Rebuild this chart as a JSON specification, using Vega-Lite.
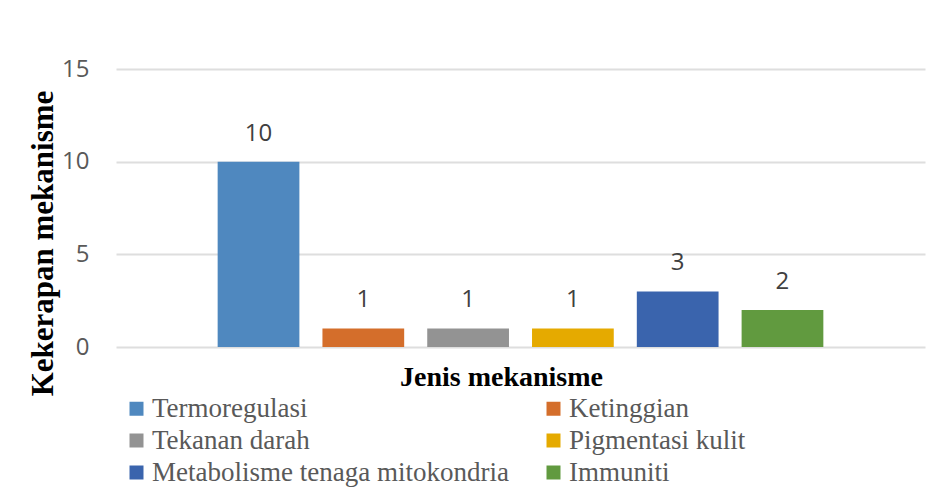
{
  "$schema": "https://vega.github.io/schema/vega-lite/v6.json",
  "autosize": "none",
  "width": 809,
  "height": 278,
  "padding": {"left": 116, "top": 69, "right": 5, "bottom": 148},
  "background": "white",
  "config": {"view": {"stroke": null}},
  "data": {
    "values": [
      {"mekanisme": "Termoregulasi", "kekerapan": 10},
      {"mekanisme": "Ketinggian", "kekerapan": 1},
      {"mekanisme": "Tekanan darah", "kekerapan": 1},
      {"mekanisme": "Pigmentasi kulit", "kekerapan": 1},
      {"mekanisme": "Metabolisme tenaga mitokondria", "kekerapan": 3},
      {"mekanisme": "Immuniti", "kekerapan": 2}
    ]
  },
  "encoding": {
    "x": {
      "field": "mekanisme",
      "type": "nominal",
      "sort": null,
      "scale": {"paddingInner": 0.22, "paddingOuter": 0.97},
      "axis": {
        "title": "Jenis mekanisme",
        "labels": false,
        "ticks": false,
        "domain": false,
        "titleFont": "Liberation Serif",
        "titleFontWeight": "bold",
        "titleFontSize": 28,
        "titleColor": "#000000",
        "titleX": 385,
        "titleY": 38,
        "titleAlign": "center",
        "titleBaseline": "alphabetic"
      }
    },
    "y": {
      "field": "kekerapan",
      "type": "quantitative",
      "scale": {"domain": [0, 15], "nice": false},
      "axis": {
        "title": "Kekerapan mekanisme",
        "values": [0, 5, 10, 15],
        "domain": false,
        "ticks": false,
        "grid": true,
        "gridColor": "#dedede",
        "gridWidth": 2,
        "labelFont": "Open Sans",
        "labelFontSize": 24,
        "labelColor": "#595959",
        "labelPadding": 27,
        "titleFont": "Liberation Serif",
        "titleFontWeight": "bold",
        "titleFontSize": 31,
        "titleColor": "#000000",
        "titleAngle": -90,
        "titleX": -64,
        "titleY": 174,
        "titleAlign": "center",
        "titleBaseline": "alphabetic"
      }
    }
  },
  "layer": [
    {
      "mark": {"type": "bar"},
      "encoding": {
        "color": {
          "field": "mekanisme",
          "type": "nominal",
          "sort": null,
          "scale": {
            "domain": ["Termoregulasi", "Ketinggian", "Tekanan darah", "Pigmentasi kulit", "Metabolisme tenaga mitokondria", "Immuniti"],
            "range": ["#4F88BF", "#D46E2B", "#939393", "#E5AA00", "#3A64AD", "#619A3F"]
          },
          "legend": {
            "title": null,
            "orient": "none",
            "legendX": 7,
            "legendY": 326,
            "direction": "horizontal",
            "columns": 2,
            "symbolType": "square",
            "symbolSize": 196,
            "symbolStrokeWidth": 0,
            "labelFont": "Liberation Serif",
            "labelFontSize": 27,
            "labelColor": "#595959",
            "labelOffset": 2,
            "labelLimit": 600,
            "rowPadding": 4,
            "columnPadding": 31
          }
        }
      }
    },
    {
      "mark": {"type": "text", "baseline": "middle", "dy": -28, "font": "Open Sans", "fontSize": 24, "color": "#404040"},
      "encoding": {"text": {"field": "kekerapan", "type": "quantitative"}}
    }
  ]
}
